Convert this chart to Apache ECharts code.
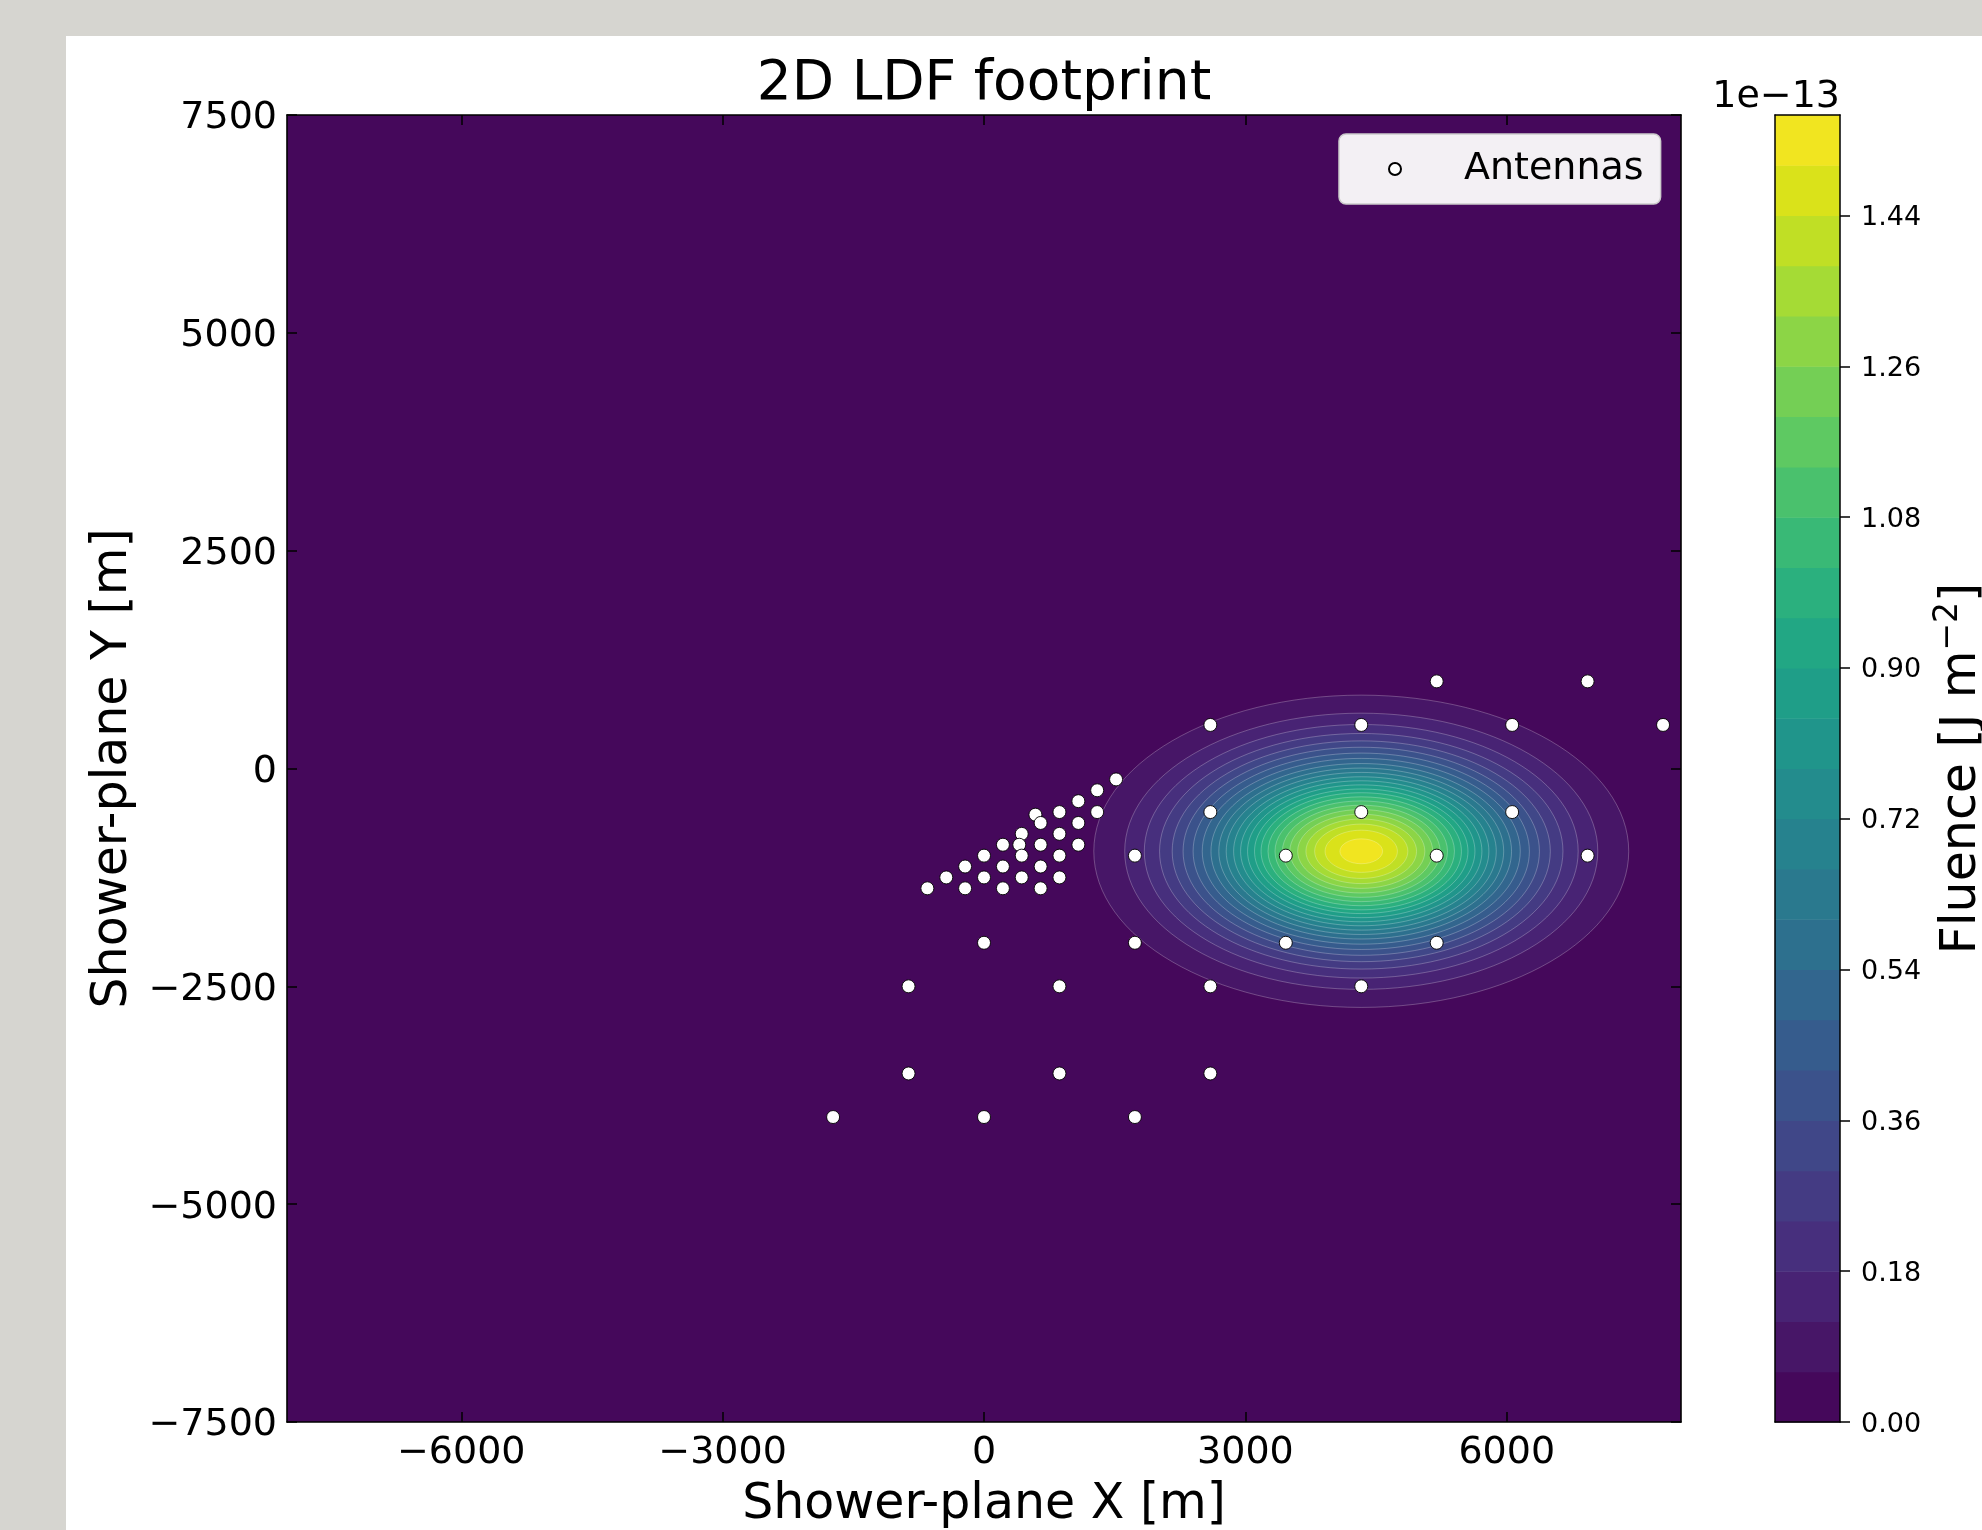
<!DOCTYPE html>
<html>
<head>
<meta charset="utf-8">
<script src="https://cdn.jsdelivr.net/npm/echarts@6/dist/echarts.min.js"></script>
<style>
html, body { margin:0; padding:0; width:1982px; height:1530px; overflow:hidden; background:#d6d5d0; }
#paper { position:absolute; left:66px; top:36px; width:1916px; height:1494px; background:#ffffff; }
#chart { position:absolute; left:0; top:0; width:1982px; height:1530px; }
</style>
</head>
<body>
<div id="paper"></div>
<div id="chart"></div>
<script>
// ---------------- data ----------------
const xTicks = [-6000, -3000, 0, 3000, 6000];
const yTicks = [-7500, -5000, -2500, 0, 2500, 5000, 7500];
const cbarTicks = [0.00, 0.18, 0.36, 0.54, 0.72, 0.90, 1.08, 1.26, 1.44];

// contourf levels (x 1e-13 J m^-2)
const levels = [0.00, 0.06, 0.12, 0.18, 0.24, 0.30, 0.36, 0.42, 0.48, 0.54, 0.60, 0.66, 0.72,
                0.78, 0.84, 0.90, 0.96, 1.02, 1.08, 1.14, 1.20, 1.26, 1.32, 1.38, 1.44, 1.50, 1.56];

// footprint centre and semi-axes (m) of the contour boundary of levels[1] .. levels[25]
const footprintCenter = [4330, -950];
const contourSemiX = [3070, 2715, 2490, 2315, 2170, 2045, 1930, 1825, 1725, 1635, 1550, 1465, 1385,
                      1305, 1225, 1150, 1070, 990, 905, 820, 730, 635, 535, 415, 245];
const contourSemiY = [1792, 1585, 1455, 1352, 1267, 1194, 1127, 1066, 1007, 955, 905, 855, 809,
                      762, 715, 672, 625, 578, 529, 479, 426, 371, 312, 242, 143];

// antenna positions (m)
const antennaX = [5196, 6928, 2598, 4330, 6062, 7794, 2598, 4330, 6062,
                  1732, 3464, 5196, 6928, 0, 1732, 3464, 5196,
                  -866, 866, 2598, 4330, -866, 866, 2598, -1732, 0, 1732,
                  1516, 1299, 1083, 866, 1299, 590, 650, 1083, 433, 866,
                  217, 405, 650, 1083, 0, 433, 866, -217, 217, 650,
                  -433, 0, 433, 866, -650, -217, 217, 650];
const antennaY = [1000, 1000, 500, 500, 500, 500, -500, -500, -500,
                  -1000, -1000, -1000, -1000, -2000, -2000, -2000, -2000,
                  -2500, -2500, -2500, -2500, -3500, -3500, -3500, -4000, -4000, -4000,
                  -125, -250, -375, -500, -500, -530, -625, -625, -750, -750,
                  -875, -875, -875, -875, -1000, -1000, -1000, -1125, -1125, -1125,
                  -1250, -1250, -1250, -1250, -1375, -1375, -1375, -1375];

// ---------------- colormap ----------------
const VIRIDIS = [[68,1,84],[71,19,101],[72,36,117],[70,52,128],[65,68,135],[59,82,139],[53,95,141],
  [47,108,142],[42,120,142],[37,132,142],[33,145,140],[30,156,137],[34,168,132],[47,180,124],
  [68,191,112],[94,201,98],[122,209,81],[155,217,60],[189,223,38],[223,227,24],[253,231,37]];
function viridis(t) {
  t = Math.max(0, Math.min(1, t));
  const p = t * (VIRIDIS.length - 1);
  const i = Math.min(Math.floor(p), VIRIDIS.length - 2);
  const f = p - i, a = VIRIDIS[i], b = VIRIDIS[i + 1];
  return 'rgb(' + a.map((v, j) => Math.round(v + (b[j] - v) * f)).join(',') + ')';
}
function bandColor(k) { return viridis((k + 0.5) / (levels.length - 1)); }

const FONT = 'DejaVu Sans';
const minusFmt = v => (v < 0 ? '\u2212' + Math.abs(v) : String(v));
const frameLine = { show: true, onZero: false, lineStyle: { color: '#000', width: 1.6 } };
const tickIn = (vals) => ({ show: true, inside: true, length: 10, customValues: vals, lineStyle: { color: '#000', width: 1.5 } });

const chart = echarts.init(document.getElementById('chart'), null, { renderer: 'canvas' });

const option = {
  animation: false,
  backgroundColor: 'transparent',
  title: [
    { text: '2D LDF footprint', left: 984, top: 57, textAlign: 'center', padding: 0,
      textStyle: { fontFamily: FONT, fontSize: 55, fontWeight: 'normal', color: '#000' } },
    { text: '1e\u221213', right: 142, top: 78, padding: 0,
      textStyle: { fontFamily: FONT, fontSize: 38, fontWeight: 'normal', color: '#000' } }
  ],
  legend: {
    left: 1339, top: 134, orient: 'vertical',
    padding: [14, 17, 14, 49],
    itemWidth: 12, itemHeight: 12,
    backgroundColor: '#f3f0f4', borderColor: '#cccccc', borderWidth: 1.5, borderRadius: 7,
    textStyle: { fontFamily: FONT, fontSize: 38, color: '#000', lineHeight: 40, padding: [2, 0, 0, 58] },
    data: [{ name: 'Antennas', icon: 'circle' }]
  },
  grid: [
    { left: 287, top: 115, width: 1394, height: 1307, show: true, borderWidth: 0,
      backgroundColor: bandColor(0), containLabel: false, outerBoundsMode: 'none' },
    { left: 1775, top: 115, width: 65, height: 1307, show: false, containLabel: false, outerBoundsMode: 'none' }
  ],
  xAxis: [
    { gridIndex: 0, type: 'value', min: -8000, max: 8000, position: 'bottom', z: 10,
      axisLine: frameLine, axisTick: tickIn(xTicks), splitLine: { show: false },
      axisLabel: { customValues: xTicks, formatter: minusFmt, fontFamily: FONT, fontSize: 38, color: '#000', margin: 12 },
      name: 'Shower-plane X [m]', nameLocation: 'middle', nameGap: 59,
      nameTextStyle: { fontFamily: FONT, fontSize: 49, color: '#000' } },
    { gridIndex: 0, type: 'value', min: -8000, max: 8000, position: 'top', z: 10,
      axisLine: frameLine, axisTick: tickIn(xTicks), splitLine: { show: false }, axisLabel: { show: false } },
    { gridIndex: 1, type: 'value', min: 0, max: 1, position: 'bottom', z: 10,
      axisLine: { show: true, onZero: false, lineStyle: { color: '#000', width: 1.5 } },
      axisTick: { show: false }, axisLabel: { show: false }, splitLine: { show: false } },
    { gridIndex: 1, type: 'value', min: 0, max: 1, position: 'top', z: 10,
      axisLine: { show: true, onZero: false, lineStyle: { color: '#000', width: 1.5 } },
      axisTick: { show: false }, axisLabel: { show: false }, splitLine: { show: false } }
  ],
  yAxis: [
    { gridIndex: 0, type: 'value', min: -7500, max: 7500, position: 'left', z: 10,
      axisLine: frameLine, axisTick: tickIn(yTicks), splitLine: { show: false },
      axisLabel: { customValues: yTicks, formatter: v => '{t|' + minusFmt(v) + '}', color: '#000', margin: 10,
        rich: { t: { fontFamily: FONT, fontSize: 38, color: '#000', padding: [7, 0, 0, 0] } } },
      name: 'Shower-plane Y [m]', nameLocation: 'middle', nameGap: 147, nameRotate: 90,
      nameTextStyle: { fontFamily: FONT, fontSize: 49, color: '#000' } },
    { gridIndex: 0, type: 'value', min: -7500, max: 7500, position: 'right', z: 10,
      axisLine: frameLine, axisTick: tickIn(yTicks), splitLine: { show: false }, axisLabel: { show: false } },
    { gridIndex: 1, type: 'value', min: 0, max: 1.56, position: 'left', z: 10,
      axisLine: { show: true, onZero: false, lineStyle: { color: '#000', width: 1.5 } },
      axisTick: { show: false }, axisLabel: { show: false }, splitLine: { show: false } },
    { gridIndex: 1, type: 'value', min: 0, max: 1.56, position: 'right', z: 10,
      axisLine: { show: true, onZero: false, lineStyle: { color: '#000', width: 1.5 } },
      axisTick: { show: true, inside: false, length: 10, customValues: cbarTicks, lineStyle: { color: '#000', width: 1.5 } },
      axisLabel: { customValues: cbarTicks, formatter: v => '{t|' + v.toFixed(2) + '}', color: '#000', margin: 21,
        rich: { t: { fontFamily: FONT, fontSize: 27, color: '#000', padding: [5, 0, 0, 0] } } },
      splitLine: { show: false },
      name: 'Fluence [J m{sup|\u22122}]', nameLocation: 'middle', nameGap: 92, nameRotate: 90,
      nameTextStyle: { fontFamily: FONT, fontSize: 49, color: '#000', lineHeight: 60,
        rich: { sup: { fontFamily: FONT, fontSize: 33, lineHeight: 33, verticalAlign: 'top', color: '#000' } } } }
  ],
  series: [
    {
      type: 'custom', name: 'footprint', xAxisIndex: 0, yAxisIndex: 0, silent: true, clip: true, z: 2,
      data: contourSemiX.map((a, i) => [footprintCenter[0], footprintCenter[1], a, contourSemiY[i], i + 1]),
      encode: { x: 0, y: 1 },
      renderItem: function (params, api) {
        const c = api.coord([api.value(0), api.value(1)]);
        const s = api.size([api.value(2), api.value(3)]);
        const k = api.value(4);
        return {
          type: 'ellipse',
          shape: { cx: c[0], cy: c[1], rx: s[0], ry: s[1] },
          style: { fill: bandColor(k), stroke: 'rgba(255,255,255,0.25)', lineWidth: 1 }
        };
      }
    },
    {
      type: 'custom', name: 'colorbar', xAxisIndex: 2, yAxisIndex: 2, silent: true, z: 2,
      data: levels.slice(0, -1).map((lo, i) => [lo, levels[i + 1], i]),
      encode: { y: [0, 1] },
      renderItem: function (params, api) {
        const p1 = api.coord([0, api.value(0)]);
        const p2 = api.coord([1, api.value(1)]);
        return {
          type: 'rect',
          shape: { x: p1[0], y: p2[1], width: p2[0] - p1[0], height: p1[1] - p2[1] + 0.5 },
          style: { fill: bandColor(api.value(2)) }
        };
      }
    },
    {
      type: 'scatter', name: 'Antennas', xAxisIndex: 0, yAxisIndex: 0, z: 5,
      symbol: 'circle', symbolSize: 13,
      itemStyle: { color: '#ffffff', borderColor: '#000000', borderWidth: 0.9, opacity: 1 },
      data: antennaX.map((x, i) => [x, antennaY[i]])
    }
  ]
};
chart.setOption(option);
</script>
</body>
</html>
